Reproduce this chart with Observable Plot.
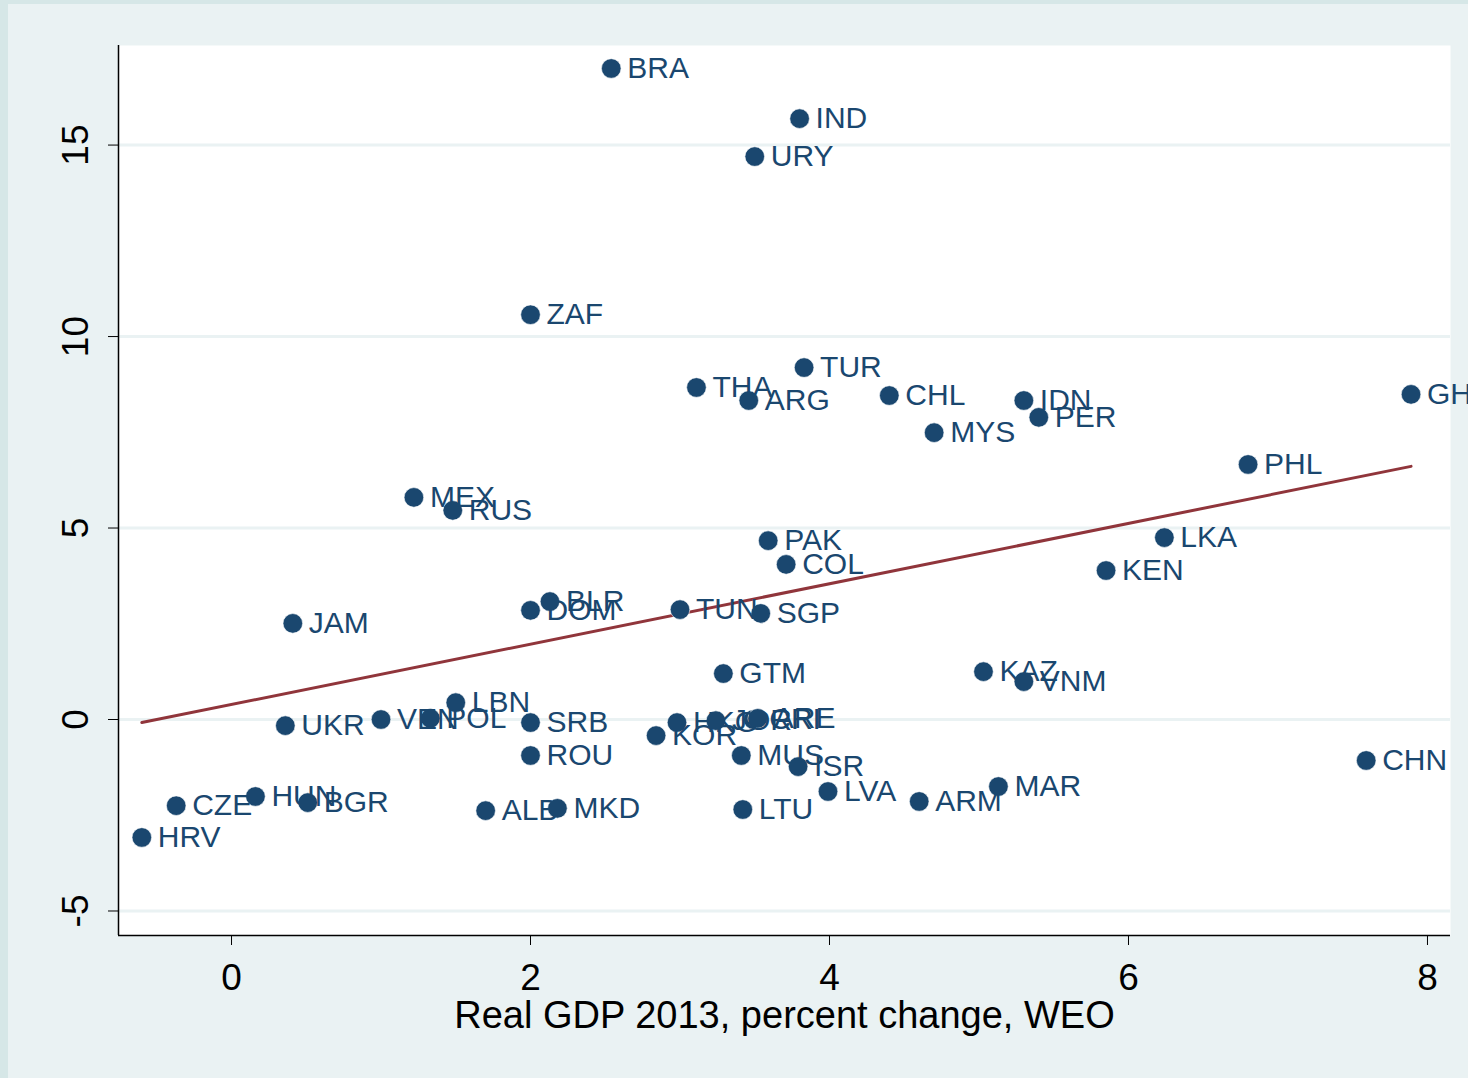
<!DOCTYPE html>
<html>
<head>
<meta charset="utf-8">
<script src="https://cdn.jsdelivr.net/npm/d3@7"></script>
<script src="https://cdn.jsdelivr.net/npm/@observablehq/plot@0.6"></script>
<style>
  html, body { margin: 0; padding: 0; background: #eaf2f3; }
  #chart { position: relative; width: 1468px; height: 1078px; overflow: hidden; }
  #chart svg { display: block; max-width: none; }
  /* thin textured edge along the left and top of the figure */
  #chart::after { content: ""; position: absolute; left: 0; top: 0; right: 0; bottom: 0;
    border-left: 8px solid #d6e7e7; border-top: 4px solid #d6e7e7; pointer-events: none; }
</style>
</head>
<body>
<div id="chart"></div>
<script>
// Country codes, 2013 real GDP growth (x) and the y-axis measure
const countries = ["BRA","IND","URY","ZAF","TUR","THA","ARG","CHL","MYS","IDN","PER","GHA","PHL",
  "MEX","RUS","PAK","COL","LKA","KEN","JAM","DOM","BLR","TUN","SGP","GTM","KAZ","VNM",
  "UKR","VEN","POL","LBN","SRB","ROU","KOR","HKG","JOR","CRI","ARE","MUS","ISR","LVA","LTU",
  "ARM","MAR","CHN","CZE","HUN","BGR","HRV","ALB","MKD"];
const gdpGrowth = [2.54,3.80,3.50,2.00,3.83,3.11,3.46,4.40,4.70,5.30,5.40,7.89,6.80,
  1.22,1.48,3.59,3.71,6.24,5.85,0.41,2.00,2.13,3.00,3.54,3.29,5.03,5.30,
  0.36,1.00,1.33,1.50,2.00,2.00,2.84,2.98,3.24,3.49,3.52,3.41,3.79,3.99,3.42,
  4.60,5.13,7.59,-0.37,0.16,0.51,-0.60,1.70,2.18];
const yValues = [17.0,15.69,14.70,10.57,9.19,8.67,8.33,8.46,7.49,8.33,7.89,8.49,6.66,
  5.80,5.46,4.67,4.05,4.75,3.89,2.51,2.85,3.08,2.87,2.77,1.20,1.25,0.99,
  -0.16,0.0,0.03,0.44,-0.08,-0.94,-0.42,-0.08,-0.03,0.0,0.03,-0.94,-1.23,-1.88,-2.35,
  -2.14,-1.75,-1.07,-2.25,-2.01,-2.17,-3.08,-2.38,-2.32];

// Fitted values of the linear fit at the ends of the x range
const fitX = [-0.60, 7.89];
const fitY = [-0.08, 6.61];

const xTicks = [0, 2, 4, 6, 8];
const yTicks = [-5, 0, 5, 10, 15];

const points = countries.map((c, i) => ({code: c, x: gdpGrowth[i], y: yValues[i]}));
const fit = fitX.map((x, i) => ({x, y: fitY[i]}));

const navy = "#1a476f";
const plain = d => String(d);
const chart = Plot.plot({
  width: 1468,
  height: 1078,
  marginLeft: 118,
  marginRight: 18,
  marginTop: 45,
  marginBottom: 143,
  style: {background: "#eaf2f3", fontFamily: "'Liberation Sans', Arial, sans-serif", color: "#000", overflow: "visible"},
  x: {domain: [-0.756, 8.154]},
  y: {domain: [-5.64, 17.6]},
  marks: [
    Plot.frame({fill: "white", stroke: null}),
    Plot.gridY(yTicks, {stroke: "#eaf2f3", strokeOpacity: 1, strokeWidth: 3}),
    Plot.line(fit, {x: "x", y: "y", stroke: "#90353b", strokeWidth: 3}),
    Plot.dot(points, {x: "x", y: "y", r: 9.8, fill: navy, stroke: "white", strokeWidth: 0.6}),
    Plot.text(points, {x: "x", y: "y", text: "code", textAnchor: "start", dx: 16, dy: 0,
      fontSize: 30, fill: navy}),
    Plot.ruleX([-0.756], {stroke: "black", strokeWidth: 1.5}),
    Plot.ruleY([-5.64], {stroke: "black", strokeWidth: 1.5}),
    Plot.axisX(xTicks, {tickSize: 10, tickPadding: 18, fontSize: 37, label: null, stroke: "black", tickFormat: plain}),
    Plot.axisY(yTicks, {tickSize: 10, tickRotate: -90, tickPadding: 21, fontSize: 37, label: null, stroke: "black", tickFormat: plain}),
    Plot.text(["Real GDP 2013, percent change, WEO"], {frameAnchor: "bottom", dy: 92, fontSize: 38, fill: "black"})
  ]
});
document.getElementById("chart").appendChild(chart);
</script>
</body>
</html>
